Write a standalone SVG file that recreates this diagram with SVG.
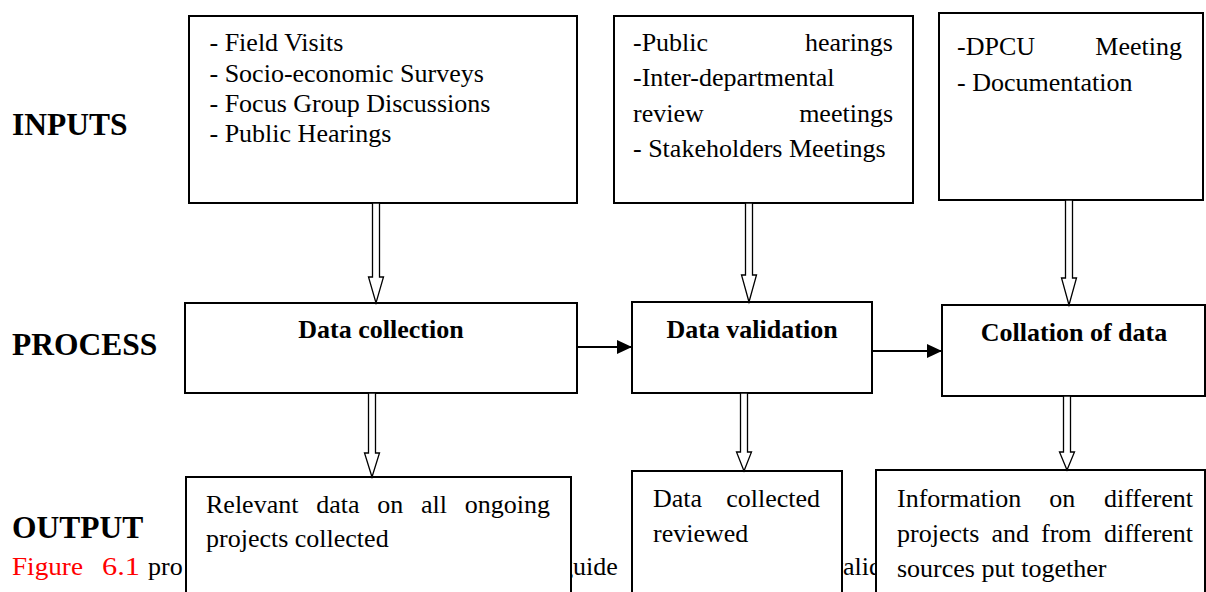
<svg xmlns="http://www.w3.org/2000/svg" width="1206" height="592" viewBox="0 0 1206 592">
  <style>
    .box { fill: #fff; stroke: #000; stroke-width: 2; }
    .t { font-family: "Liberation Serif", "Times New Roman", serif; font-size: 26px; fill: #000; }
    .red { fill: #ff0000; }
    .title { font-family: "Liberation Serif", "Times New Roman", serif; font-size: 26px; font-weight: bold; fill: #000; text-anchor: middle; }
    .row { font-family: "Liberation Serif", "Times New Roman", serif; font-size: 31.5px; font-weight: bold; fill: #000; }
    .end { text-anchor: end; }
    .block { fill: #fff; stroke: #000; stroke-width: 1.3; stroke-linejoin: miter; }
    .flow { stroke: #000; stroke-width: 2; fill: none; marker-end: url(#solid); }
  </style>
  <defs>
    <marker id="solid" viewBox="0 0 15 14" refX="15" refY="7" markerWidth="15" markerHeight="14" markerUnits="userSpaceOnUse" orient="auto">
      <path d="M0,0 L15,7 L0,14 z" fill="#000"/>
    </marker>
  </defs>

  <rect width="1206" height="592" fill="#fff"/>

  <!-- row labels -->
  <g id="labels">
    <text class="row" x="12" y="135">INPUTS</text>
    <text class="row" x="12" y="355">PROCESS</text>
    <text class="row" x="12" y="538">OUTPUT</text>
  </g>

  <!-- running caption line, partly covered by the output boxes -->
  <g id="caption">
    <text class="t red" x="12" y="575" textLength="71" lengthAdjust="spacingAndGlyphs">Figure</text>
    <text class="t red" x="102" y="575" textLength="38" lengthAdjust="spacingAndGlyphs">6.1</text>
    <text class="t" x="148" y="575">pro</text>
    <text class="t" x="560" y="575">guide</text>
    <text class="t" x="830" y="575">valid</text>
  </g>

  <!-- inputs -->
  <g id="input-field">
    <rect class="box" x="189" y="16" width="388" height="187"/>
    <text class="t" x="209.5" y="51">- Field Visits</text>
    <text class="t" x="209.5" y="81.5">- Socio-economic Surveys</text>
    <text class="t" x="209.5" y="112">- Focus Group Discussions</text>
    <text class="t" x="209.5" y="142">- Public Hearings</text>
  </g>

  <g id="input-hearings">
    <rect class="box" x="614" y="16" width="299" height="187"/>
    <text class="t" x="633" y="51">-Public</text>
    <text class="t end" x="893" y="51">hearings</text>
    <text class="t" x="633" y="86">-Inter-departmental</text>
    <text class="t" x="633" y="121.5">review</text>
    <text class="t end" x="893" y="121.5">meetings</text>
    <text class="t" x="633" y="156.5">- Stakeholders Meetings</text>
  </g>

  <g id="input-dpcu">
    <rect class="box" x="939" y="13" width="264" height="187"/>
    <text class="t" x="957" y="55">-DPCU</text>
    <text class="t end" x="1182" y="55">Meeting</text>
    <text class="t" x="957" y="91">- Documentation</text>
  </g>

  <!-- process -->
  <g id="process-collection">
    <rect class="box" x="185" y="303" width="392" height="90"/>
    <text class="title" x="381" y="338">Data collection</text>
  </g>

  <g id="process-validation">
    <rect class="box" x="632" y="302" width="240" height="91"/>
    <text class="title" x="752" y="338">Data validation</text>
  </g>

  <g id="process-collation">
    <rect class="box" x="942" y="305" width="263" height="91"/>
    <text class="title" x="1074" y="341">Collation of data</text>
  </g>

  <!-- outputs -->
  <g id="output-relevant">
    <rect class="box" x="186" y="477" width="385" height="130"/>
    <text class="t" x="206" y="513">Relevant</text>
    <text class="t" x="316.2" y="513">data</text>
    <text class="t" x="377.2" y="513">on</text>
    <text class="t" x="421" y="513">all</text>
    <text class="t end" x="550" y="513">ongoing</text>
    <text class="t" x="206" y="547">projects collected</text>
  </g>

  <g id="output-reviewed">
    <rect class="box" x="632" y="471" width="210" height="130"/>
    <text class="t" x="653" y="507">Data</text>
    <text class="t end" x="820" y="507">collected</text>
    <text class="t" x="653" y="542">reviewed</text>
  </g>

  <g id="output-information">
    <rect class="box" x="876" y="470" width="329" height="130"/>
    <text class="t" x="897" y="507">Information</text>
    <text class="t" x="1049.3" y="507">on</text>
    <text class="t end" x="1193" y="507">different</text>
    <text class="t" x="897" y="542">projects</text>
    <text class="t" x="991.4" y="542">and</text>
    <text class="t" x="1041" y="542">from</text>
    <text class="t end" x="1193" y="542">different</text>
    <text class="t" x="897" y="577">sources put together</text>
  </g>

  <!-- connectors -->
  <g id="connectors">
    <polygon class="block" points="372.5,203 379.5,203 379.5,277 383.5,277 376,303 368.5,277 372.5,277"/>
    <polygon class="block" points="745.5,203 752.5,203 752.5,275 756.5,275 749,302 741.5,275 745.5,275"/>
    <polygon class="block" points="1065.5,200 1072.5,200 1072.5,278 1076.5,278 1069,305 1061.5,278 1065.5,278"/>
    <polygon class="block" points="368.5,393 375.5,393 375.5,453 379.5,453 372,477 364.5,453 368.5,453"/>
    <polygon class="block" points="740.5,393 747.5,393 747.5,452 751.5,452 744,471 736.5,452 740.5,452"/>
    <polygon class="block" points="1063.5,396 1070.5,396 1070.5,452 1074.5,452 1067,470 1059.5,452 1063.5,452"/>
    <line class="flow" x1="577" y1="347" x2="632" y2="347"/>
    <line class="flow" x1="873" y1="351" x2="942" y2="351"/>
  </g>
</svg>
